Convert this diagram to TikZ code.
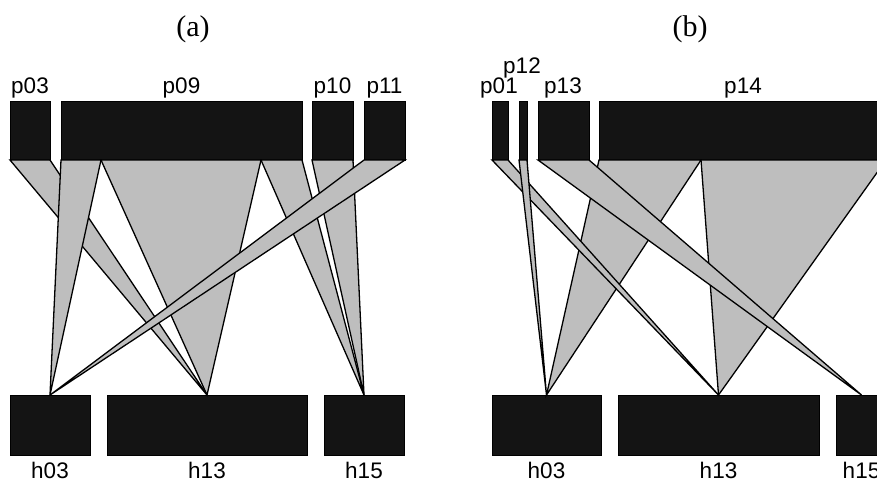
\documentclass[tikz,border=0pt]{standalone}
\usepackage{fontspec}
\setmainfont{Liberation Sans}
\newfontfamily\ttlfont{Liberation Serif}
\definecolor{boxfill}{HTML}{141414}
\definecolor{ribfill}{HTML}{BEBEBE}
\begin{document}
\begin{tikzpicture}[x=1pt,y=-1pt,
  box/.style={draw=black,line width=0.6pt,fill=boxfill,inner sep=0pt,outer sep=0pt,minimum height=59pt},
  hbox/.style={box,minimum height=60pt},
  rib/.style={draw=black,fill=ribfill,line width=1.3pt,line join=miter},
  lab/.style={anchor=base,inner sep=0pt,font=\fontsize{22.5}{26}\selectfont},
  ttl/.style={anchor=base,inner sep=0pt,font=\ttlfont\fontsize{30}{34}\selectfont}]
\useasboundingbox (0,0) rectangle (877,482);
\clip (0,0) rectangle (877,482);
% titles
\node[ttl] (ta) at (193,36.5) {(a)};
\node[ttl] (tb) at (690,36.5) {(b)};
% ===== panel (a) =====
\node[box,minimum width=40pt]  (ap03) at (30,130.5) {};
\node[box,minimum width=241pt] (ap09) at (181.5,130.5) {};
\node[box,minimum width=41pt]  (ap10) at (332.5,130.5) {};
\node[box,minimum width=41pt]  (ap11) at (384.5,130.5) {};
\node[hbox,minimum width=80pt]  (ah03) at (50,425) {};
\node[hbox,minimum width=200pt] (ah13) at (207,425) {};
\node[hbox,minimum width=80pt]  (ah15) at (364,425) {};
\coordinate (ap09s1) at (101,160);
\coordinate (ap09s2) at (261,160);
\node[lab] (lap03) at (30,93) {p03};
\node[lab] (lap09) at (181.5,93) {p09};
\node[lab] (lap10) at (332.5,93) {p10};
\node[lab] (lap11) at (384.5,93) {p11};
\node[lab] (lah03) at (50,478) {h03};
\node[lab] (lah13) at (207,478) {h13};
\node[lab] (lah15) at (364,478) {h15};
% ribbons (a)
\filldraw[rib] (ap03.south west) -- (ap03.south east) -- (ah13.north) -- cycle;
\filldraw[rib] (ap09.south west) -- (ap09s1) -- (ah03.north) -- cycle;
\filldraw[rib] (ap09s1) -- (ap09s2) -- (ah13.north) -- cycle;
\filldraw[rib] (ap09s2) -- (ap09.south east) -- (ah15.north) -- cycle;
\filldraw[rib] (ap10.south west) -- (ap10.south east) -- (ah15.north) -- cycle;
\filldraw[rib] (ap11.south west) -- (ap11.south east) -- (ah03.north) -- cycle;
% ===== panel (b) =====
\node[box,minimum width=16pt]  (bp01) at (500,130.5) {};
\node[box,minimum width=8pt]   (bp12) at (523,130.5) {};
\node[box,minimum width=51pt]  (bp13) at (563.5,130.5) {};
\node[box,minimum width=287pt] (bp14) at (742.5,130.5) {};
\node[hbox,minimum width=109pt] (bh03) at (546.5,425) {};
\node[hbox,minimum width=201pt] (bh13) at (718.5,425) {};
\node[hbox,minimum width=51pt]  (bh15) at (861.5,425) {};
\coordinate (bp14s1) at (701,160);
\node[lab] (lbp01) at (499,93) {p01};
\node[lab] (lbp12) at (522,73) {p12};
\node[lab] (lbp13) at (563,93) {p13};
\node[lab] (lbp14) at (743,93) {p14};
\node[lab] (lbh03) at (546.5,478) {h03};
\node[lab] (lbh13) at (718.5,478) {h13};
\node[lab] (lbh15) at (861.5,478) {h15};
% ribbons (b)
\filldraw[rib] (bp14.south west) -- (bp14s1) -- (bh03.north) -- cycle;
\filldraw[rib] (bp14s1) -- (bp14.south east) -- (bh13.north) -- cycle;
\filldraw[rib] (bp01.south west) -- (bp01.south east) -- (bh13.north) -- cycle;
\filldraw[rib] (bp12.south west) -- (bp12.south east) -- (bh03.north) -- cycle;
\filldraw[rib] (bp13.south west) -- (bp13.south east) -- (bh15.north) -- cycle;
\end{tikzpicture}
\end{document}
